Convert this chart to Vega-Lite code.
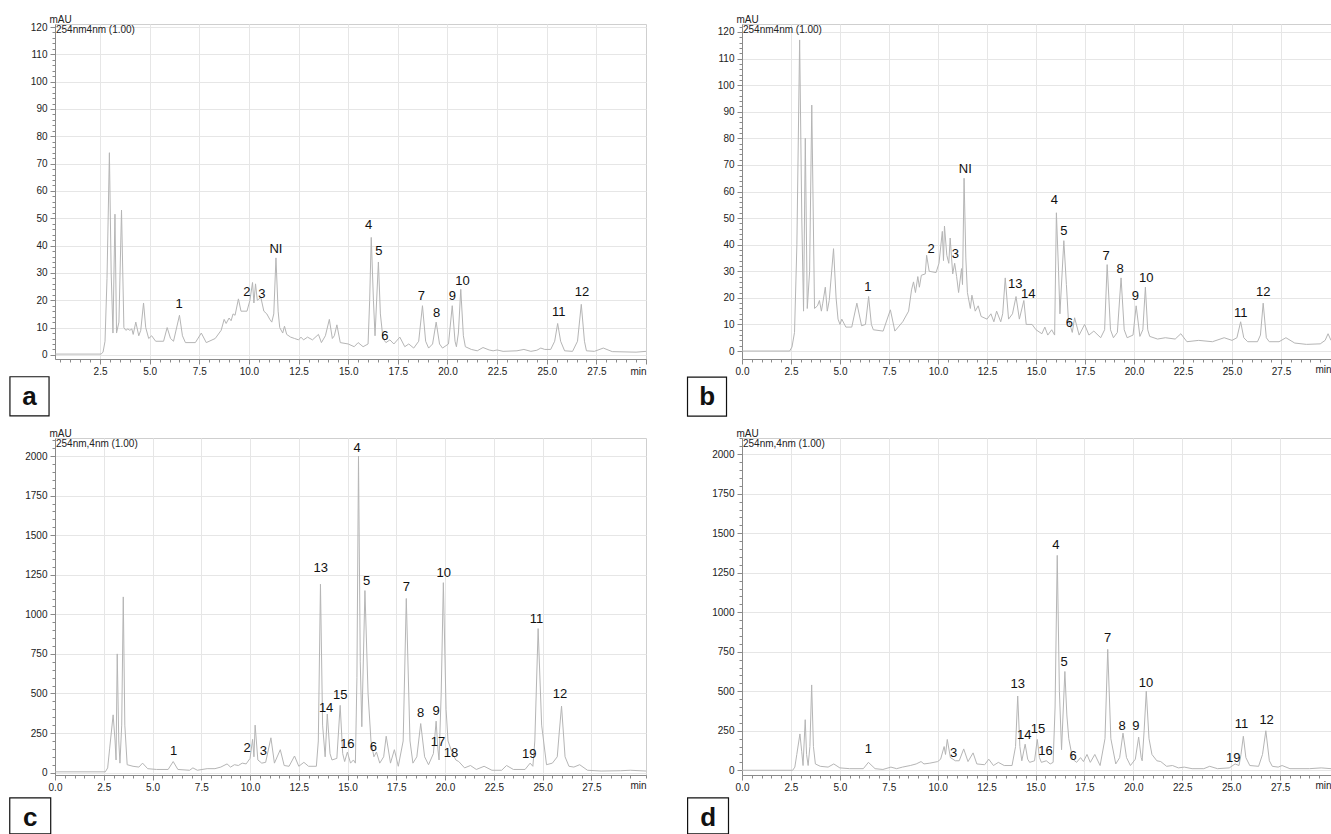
{
"$schema": "https://vega.github.io/schema/vega-lite/v6.json",
"autosize": {"type": "pad"},
"padding": {"left": 8, "top": 13, "right": 0, "bottom": 0},
"background": "white",
"config": {
  "axis": {"labelFont": "Liberation Sans", "labelFontSize": 10, "labelColor": "#222", "domainColor": "#8a8a8a", "tickColor": "#8a8a8a", "gridColor": "#e6e6e6", "titleFont": "Liberation Sans", "titleFontWeight": "normal", "titleFontSize": 10, "titleColor": "#222", "labelOverlap": false, "tickCount": 500},
  "view": {"stroke": "#cfcfcf"},
  "text": {"font": "Liberation Sans"}
},
"datasets": {
  "info": [{"panel": "a", "info": "254nm4nm (1.00)"}, {"panel": "b", "info": "254nm4nm (1.00)"}, {"panel": "c", "info": "254nm,4nm (1.00)"}, {"panel": "d", "info": "254nm,4nm (1.00)"}],
  "a": [{"t":0.23,"v":0.3},{"t":2.55,"v":0.3},{"t":2.65,"v":1},{"t":2.75,"v":5},{"t":2.85,"v":28},{"t":2.97,"v":74},{"t":3.06,"v":30},{"t":3.15,"v":8},{"t":3.25,"v":51.5},{"t":3.33,"v":8},{"t":3.45,"v":12},{"t":3.58,"v":53},{"t":3.7,"v":10},{"t":3.8,"v":9},{"t":3.9,"v":9.5},{"t":4.0,"v":9},{"t":4.1,"v":9.5},{"t":4.17,"v":7.5},{"t":4.3,"v":12},{"t":4.45,"v":7},{"t":4.55,"v":9},{"t":4.69,"v":19},{"t":4.8,"v":10},{"t":4.95,"v":6},{"t":5.1,"v":7},{"t":5.3,"v":5},{"t":5.7,"v":5},{"t":5.88,"v":10},{"t":6.05,"v":6},{"t":6.2,"v":5},{"t":6.5,"v":14.5},{"t":6.65,"v":7},{"t":6.8,"v":4.5},{"t":7.3,"v":4.5},{"t":7.6,"v":8},{"t":7.85,"v":4.5},{"t":8.3,"v":6},{"t":8.6,"v":9},{"t":8.75,"v":13},{"t":8.85,"v":11.5},{"t":9.0,"v":13.5},{"t":9.1,"v":12.5},{"t":9.2,"v":15},{"t":9.3,"v":14.5},{"t":9.47,"v":20.5},{"t":9.6,"v":16},{"t":9.9,"v":16},{"t":10.05,"v":20},{"t":10.18,"v":26.5},{"t":10.25,"v":19},{"t":10.33,"v":26},{"t":10.42,"v":20},{"t":10.6,"v":21},{"t":10.75,"v":16},{"t":10.9,"v":15},{"t":11.05,"v":13},{"t":11.15,"v":12},{"t":11.25,"v":15},{"t":11.36,"v":35.5},{"t":11.47,"v":16},{"t":11.55,"v":10},{"t":11.7,"v":8},{"t":11.79,"v":10.5},{"t":11.9,"v":7.5},{"t":12.1,"v":6.5},{"t":12.3,"v":6},{"t":12.5,"v":5.5},{"t":12.62,"v":6.5},{"t":12.75,"v":5.5},{"t":12.95,"v":6.5},{"t":13.2,"v":5.5},{"t":13.5,"v":7.5},{"t":13.65,"v":4.5},{"t":13.85,"v":7},{"t":14.05,"v":13},{"t":14.2,"v":6},{"t":14.3,"v":7},{"t":14.43,"v":11},{"t":14.6,"v":4.5},{"t":15.0,"v":4},{"t":15.3,"v":3},{"t":15.5,"v":4.5},{"t":15.75,"v":3},{"t":16.0,"v":4},{"t":16.08,"v":20},{"t":16.16,"v":43},{"t":16.27,"v":20},{"t":16.35,"v":7},{"t":16.52,"v":34},{"t":16.62,"v":15},{"t":16.75,"v":6},{"t":16.9,"v":4.5},{"t":17.1,"v":5.5},{"t":17.3,"v":4},{"t":17.6,"v":6.5},{"t":17.85,"v":3},{"t":18.05,"v":4},{"t":18.3,"v":2.5},{"t":18.55,"v":5},{"t":18.74,"v":18},{"t":18.9,"v":5},{"t":19.05,"v":2.5},{"t":19.25,"v":4},{"t":19.43,"v":12},{"t":19.6,"v":4},{"t":19.75,"v":2.5},{"t":20.05,"v":4},{"t":20.24,"v":18},{"t":20.38,"v":5},{"t":20.45,"v":3},{"t":20.55,"v":8},{"t":20.67,"v":24},{"t":20.8,"v":7},{"t":20.9,"v":3},{"t":21.2,"v":2},{"t":21.5,"v":1.5},{"t":21.79,"v":2.7},{"t":22.1,"v":1.8},{"t":22.3,"v":1.5},{"t":22.5,"v":1.8},{"t":22.8,"v":1.3},{"t":23.5,"v":1.5},{"t":23.85,"v":2},{"t":24.2,"v":1.3},{"t":24.5,"v":1.7},{"t":24.7,"v":2.5},{"t":24.9,"v":2},{"t":25.2,"v":2},{"t":25.4,"v":5},{"t":25.55,"v":11.5},{"t":25.7,"v":5},{"t":25.9,"v":1.5},{"t":26.3,"v":1.3},{"t":26.55,"v":5},{"t":26.74,"v":18.5},{"t":26.9,"v":5},{"t":27.0,"v":1.5},{"t":27.4,"v":1.3},{"t":27.85,"v":2.5},{"t":28.3,"v":1.2},{"t":29.5,"v":1},{"t":30.0,"v":1.3}],
  "aLab": [{"t":6.48,"v":18.6,"lab":"1"},{"t":9.9,"v":22.9,"lab":"2"},{"t":10.65,"v":22.3,"lab":"3"},{"t":11.36,"v":38.7,"lab":"NI"},{"t":16.03,"v":47.6,"lab":"4"},{"t":16.54,"v":37.9,"lab":"5"},{"t":16.84,"v":7.1,"lab":"6"},{"t":18.69,"v":21.7,"lab":"7"},{"t":19.45,"v":15.2,"lab":"8"},{"t":20.24,"v":21.7,"lab":"9"},{"t":20.76,"v":27.2,"lab":"10"},{"t":25.6,"v":15.6,"lab":"11"},{"t":26.78,"v":23.1,"lab":"12"}],
  "b": [{"t":0,"v":0},{"t":2.43,"v":0},{"t":2.55,"v":1.5},{"t":2.68,"v":7},{"t":2.8,"v":40},{"t":2.94,"v":117},{"t":3.05,"v":50},{"t":3.14,"v":15},{"t":3.23,"v":80},{"t":3.33,"v":16},{"t":3.45,"v":30},{"t":3.56,"v":92.5},{"t":3.7,"v":16},{"t":3.85,"v":17},{"t":3.95,"v":19},{"t":4.05,"v":15},{"t":4.12,"v":18},{"t":4.25,"v":24},{"t":4.35,"v":15},{"t":4.45,"v":19},{"t":4.67,"v":38.5},{"t":4.8,"v":20},{"t":4.9,"v":12},{"t":5.0,"v":10},{"t":5.09,"v":12},{"t":5.3,"v":9},{"t":5.6,"v":9},{"t":5.86,"v":18},{"t":6.1,"v":9.5},{"t":6.3,"v":10},{"t":6.46,"v":20.5},{"t":6.6,"v":10},{"t":6.7,"v":8},{"t":7.2,"v":7.5},{"t":7.57,"v":15.5},{"t":7.8,"v":7.5},{"t":8.2,"v":11},{"t":8.5,"v":15},{"t":8.65,"v":23},{"t":8.75,"v":26},{"t":8.85,"v":22},{"t":8.97,"v":28},{"t":9.05,"v":24},{"t":9.15,"v":28.5},{"t":9.35,"v":29},{"t":9.42,"v":36},{"t":9.55,"v":30},{"t":9.9,"v":29.5},{"t":10.05,"v":33},{"t":10.22,"v":45},{"t":10.28,"v":34},{"t":10.33,"v":47},{"t":10.45,"v":36},{"t":10.55,"v":33},{"t":10.62,"v":42.5},{"t":10.75,"v":29},{"t":10.85,"v":33},{"t":10.95,"v":28},{"t":11.05,"v":22},{"t":11.2,"v":31},{"t":11.25,"v":25},{"t":11.33,"v":65},{"t":11.42,"v":35},{"t":11.5,"v":22},{"t":11.65,"v":16},{"t":11.73,"v":21},{"t":11.9,"v":15},{"t":12.05,"v":17},{"t":12.2,"v":13},{"t":12.5,"v":12},{"t":12.7,"v":14},{"t":12.85,"v":11},{"t":12.99,"v":15},{"t":13.2,"v":11},{"t":13.3,"v":14},{"t":13.43,"v":27.5},{"t":13.6,"v":12},{"t":13.8,"v":14},{"t":13.98,"v":20.5},{"t":14.15,"v":12},{"t":14.38,"v":19},{"t":14.5,"v":10},{"t":14.8,"v":10},{"t":15.0,"v":8},{"t":15.3,"v":6.5},{"t":15.45,"v":9},{"t":15.6,"v":6},{"t":15.8,"v":8},{"t":15.95,"v":6},{"t":16.04,"v":52},{"t":16.15,"v":30},{"t":16.22,"v":14},{"t":16.42,"v":41.5},{"t":16.55,"v":25},{"t":16.65,"v":12},{"t":16.85,"v":7},{"t":16.97,"v":12.5},{"t":17.2,"v":6},{"t":17.48,"v":10},{"t":17.7,"v":6},{"t":17.95,"v":7.5},{"t":18.3,"v":5},{"t":18.5,"v":8},{"t":18.63,"v":32.5},{"t":18.8,"v":8},{"t":18.95,"v":5},{"t":19.15,"v":7},{"t":19.34,"v":27.5},{"t":19.5,"v":8},{"t":19.65,"v":5},{"t":19.95,"v":6},{"t":20.11,"v":17},{"t":20.3,"v":5.5},{"t":20.45,"v":8},{"t":20.58,"v":24},{"t":20.7,"v":8},{"t":20.8,"v":5.5},{"t":21.2,"v":4.5},{"t":21.6,"v":5},{"t":22.1,"v":4.5},{"t":22.39,"v":6.5},{"t":22.7,"v":3.5},{"t":23.3,"v":4},{"t":24.0,"v":3.5},{"t":24.6,"v":5},{"t":25.0,"v":4},{"t":25.25,"v":5},{"t":25.44,"v":11},{"t":25.6,"v":5},{"t":25.8,"v":3.5},{"t":26.3,"v":3.5},{"t":26.45,"v":6},{"t":26.59,"v":18},{"t":26.75,"v":5},{"t":26.9,"v":3.5},{"t":27.4,"v":3.5},{"t":27.75,"v":5},{"t":28.2,"v":3},{"t":28.8,"v":2.5},{"t":29.5,"v":2.7},{"t":29.75,"v":4},{"t":29.9,"v":6.5},{"t":30.05,"v":4}],
  "bLab": [{"t":6.42,"v":24.1,"lab":"1"},{"t":9.65,"v":38.2,"lab":"2"},{"t":10.88,"v":36.4,"lab":"3"},{"t":11.39,"v":68.3,"lab":"NI"},{"t":13.94,"v":25.1,"lab":"13"},{"t":14.6,"v":21.3,"lab":"14"},{"t":15.93,"v":56.8,"lab":"4"},{"t":16.42,"v":45.1,"lab":"5"},{"t":16.7,"v":10.7,"lab":"6"},{"t":18.58,"v":35.7,"lab":"7"},{"t":19.29,"v":30.7,"lab":"8"},{"t":20.07,"v":20.7,"lab":"9"},{"t":20.62,"v":27.6,"lab":"10"},{"t":25.44,"v":14.4,"lab":"11"},{"t":26.59,"v":22.2,"lab":"12"}],
  "c": [{"t":0,"v":5},{"t":2.58,"v":5},{"t":2.7,"v":30},{"t":2.8,"v":150},{"t":2.98,"v":365},{"t":3.08,"v":200},{"t":3.13,"v":80},{"t":3.19,"v":750},{"t":3.27,"v":200},{"t":3.33,"v":60},{"t":3.42,"v":300},{"t":3.5,"v":1110},{"t":3.58,"v":300},{"t":3.7,"v":50},{"t":4.0,"v":40},{"t":4.3,"v":35},{"t":4.49,"v":60},{"t":4.75,"v":25},{"t":5.2,"v":20},{"t":5.8,"v":20},{"t":6.06,"v":70},{"t":6.3,"v":20},{"t":6.9,"v":15},{"t":7.07,"v":30},{"t":7.3,"v":15},{"t":7.8,"v":25},{"t":8.2,"v":25},{"t":8.5,"v":35},{"t":8.82,"v":55},{"t":9.0,"v":35},{"t":9.2,"v":50},{"t":9.4,"v":45},{"t":9.6,"v":60},{"t":9.8,"v":55},{"t":10.0,"v":90},{"t":10.13,"v":210},{"t":10.2,"v":100},{"t":10.26,"v":300},{"t":10.4,"v":80},{"t":10.6,"v":60},{"t":10.8,"v":65},{"t":11.07,"v":220},{"t":11.25,"v":60},{"t":11.55,"v":145},{"t":11.75,"v":45},{"t":12.0,"v":40},{"t":12.28,"v":105},{"t":12.5,"v":40},{"t":12.76,"v":65},{"t":13.0,"v":40},{"t":13.4,"v":40},{"t":13.5,"v":200},{"t":13.61,"v":1190},{"t":13.72,"v":300},{"t":13.85,"v":100},{"t":13.96,"v":370},{"t":14.1,"v":120},{"t":14.2,"v":80},{"t":14.45,"v":90},{"t":14.62,"v":425},{"t":14.75,"v":120},{"t":14.85,"v":70},{"t":14.99,"v":130},{"t":15.15,"v":60},{"t":15.3,"v":80},{"t":15.4,"v":60},{"t":15.48,"v":600},{"t":15.56,"v":2000},{"t":15.65,"v":700},{"t":15.73,"v":290},{"t":15.89,"v":1150},{"t":16.05,"v":500},{"t":16.2,"v":200},{"t":16.35,"v":100},{"t":16.48,"v":130},{"t":16.65,"v":60},{"t":16.85,"v":100},{"t":16.98,"v":230},{"t":17.2,"v":60},{"t":17.4,"v":145},{"t":17.6,"v":40},{"t":17.85,"v":200},{"t":18.01,"v":1100},{"t":18.2,"v":200},{"t":18.35,"v":60},{"t":18.55,"v":100},{"t":18.75,"v":310},{"t":18.95,"v":100},{"t":19.15,"v":50},{"t":19.4,"v":120},{"t":19.54,"v":325},{"t":19.63,"v":150},{"t":19.69,"v":80},{"t":19.8,"v":500},{"t":19.91,"v":1200},{"t":20.05,"v":400},{"t":20.15,"v":200},{"t":20.35,"v":130},{"t":20.55,"v":80},{"t":20.7,"v":70},{"t":21.0,"v":30},{"t":21.3,"v":45},{"t":21.6,"v":20},{"t":22.0,"v":40},{"t":22.4,"v":15},{"t":22.9,"v":15},{"t":23.15,"v":45},{"t":23.5,"v":20},{"t":24.1,"v":20},{"t":24.36,"v":60},{"t":24.5,"v":40},{"t":24.6,"v":200},{"t":24.77,"v":910},{"t":24.95,"v":300},{"t":25.2,"v":50},{"t":25.5,"v":60},{"t":25.75,"v":100},{"t":25.85,"v":250},{"t":25.97,"v":420},{"t":26.15,"v":100},{"t":26.35,"v":40},{"t":26.6,"v":35},{"t":26.9,"v":50},{"t":27.3,"v":15},{"t":28.0,"v":10},{"t":29.0,"v":12},{"t":29.5,"v":15},{"t":30.3,"v":10}],
  "cLab": [{"t":6.08,"v":137,"lab":"1"},{"t":9.85,"v":154,"lab":"2"},{"t":10.68,"v":137,"lab":"3"},{"t":13.63,"v":1295,"lab":"13"},{"t":13.9,"v":410,"lab":"14"},{"t":14.62,"v":490,"lab":"15"},{"t":14.99,"v":183,"lab":"16"},{"t":15.49,"v":2048,"lab":"4"},{"t":15.97,"v":1210,"lab":"5"},{"t":16.32,"v":162,"lab":"6"},{"t":18.01,"v":1175,"lab":"7"},{"t":18.75,"v":379,"lab":"8"},{"t":19.54,"v":389,"lab":"9"},{"t":19.93,"v":1259,"lab":"10"},{"t":19.64,"v":195,"lab":"17"},{"t":20.3,"v":125,"lab":"18"},{"t":24.68,"v":968,"lab":"11"},{"t":25.89,"v":495,"lab":"12"},{"t":24.31,"v":120,"lab":"19"}],
  "d": [{"t":0,"v":0},{"t":2.59,"v":0},{"t":2.7,"v":20},{"t":2.8,"v":100},{"t":2.96,"v":230},{"t":3.05,"v":120},{"t":3.12,"v":30},{"t":3.23,"v":320},{"t":3.3,"v":100},{"t":3.38,"v":30},{"t":3.47,"v":150},{"t":3.56,"v":540},{"t":3.65,"v":150},{"t":3.75,"v":40},{"t":4.0,"v":25},{"t":4.4,"v":20},{"t":4.69,"v":40},{"t":5.0,"v":15},{"t":5.5,"v":10},{"t":6.2,"v":10},{"t":6.46,"v":50},{"t":6.8,"v":10},{"t":7.2,"v":5},{"t":7.61,"v":20},{"t":7.9,"v":10},{"t":8.2,"v":20},{"t":8.6,"v":30},{"t":8.9,"v":40},{"t":9.15,"v":55},{"t":9.3,"v":40},{"t":9.6,"v":45},{"t":10.0,"v":55},{"t":10.15,"v":70},{"t":10.33,"v":150},{"t":10.4,"v":100},{"t":10.49,"v":195},{"t":10.65,"v":80},{"t":10.9,"v":60},{"t":11.1,"v":60},{"t":11.33,"v":135},{"t":11.55,"v":55},{"t":11.81,"v":110},{"t":12.0,"v":40},{"t":12.4,"v":35},{"t":12.61,"v":70},{"t":12.85,"v":30},{"t":13.1,"v":50},{"t":13.4,"v":30},{"t":13.8,"v":30},{"t":13.98,"v":150},{"t":14.09,"v":470},{"t":14.2,"v":150},{"t":14.3,"v":60},{"t":14.47,"v":165},{"t":14.6,"v":70},{"t":14.7,"v":50},{"t":14.95,"v":60},{"t":15.09,"v":195},{"t":15.2,"v":80},{"t":15.3,"v":50},{"t":15.55,"v":60},{"t":15.75,"v":40},{"t":15.9,"v":50},{"t":16.0,"v":400},{"t":16.11,"v":1360},{"t":16.22,"v":500},{"t":16.33,"v":130},{"t":16.5,"v":625},{"t":16.6,"v":350},{"t":16.7,"v":200},{"t":16.9,"v":70},{"t":17.1,"v":50},{"t":17.3,"v":80},{"t":17.45,"v":55},{"t":17.63,"v":100},{"t":17.8,"v":50},{"t":18.03,"v":100},{"t":18.3,"v":30},{"t":18.55,"v":200},{"t":18.69,"v":765},{"t":18.85,"v":200},{"t":19.1,"v":40},{"t":19.3,"v":80},{"t":19.47,"v":235},{"t":19.65,"v":80},{"t":19.85,"v":30},{"t":20.1,"v":70},{"t":20.27,"v":210},{"t":20.4,"v":80},{"t":20.45,"v":60},{"t":20.55,"v":250},{"t":20.66,"v":500},{"t":20.8,"v":200},{"t":20.95,"v":100},{"t":21.2,"v":60},{"t":21.4,"v":55},{"t":21.7,"v":25},{"t":22.0,"v":30},{"t":22.3,"v":15},{"t":22.6,"v":20},{"t":23.0,"v":10},{"t":23.6,"v":10},{"t":23.9,"v":25},{"t":24.3,"v":10},{"t":24.9,"v":15},{"t":25.2,"v":40},{"t":25.4,"v":30},{"t":25.5,"v":100},{"t":25.62,"v":215},{"t":25.75,"v":80},{"t":25.95,"v":30},{"t":26.4,"v":25},{"t":26.6,"v":100},{"t":26.77,"v":250},{"t":26.95,"v":60},{"t":27.1,"v":25},{"t":27.4,"v":20},{"t":27.6,"v":30},{"t":28.0,"v":10},{"t":29.0,"v":10},{"t":29.6,"v":15},{"t":30.1,"v":10}],
  "dLab": [{"t":6.46,"v":133,"lab":"1"},{"t":10.82,"v":107,"lab":"3"},{"t":14.09,"v":548,"lab":"13"},{"t":14.42,"v":221,"lab":"14"},{"t":15.13,"v":259,"lab":"15"},{"t":15.51,"v":122,"lab":"16"},{"t":16.04,"v":1423,"lab":"4"},{"t":16.46,"v":687,"lab":"5"},{"t":16.92,"v":91,"lab":"6"},{"t":18.69,"v":835,"lab":"7"},{"t":19.42,"v":280,"lab":"8"},{"t":20.13,"v":280,"lab":"9"},{"t":20.64,"v":554,"lab":"10"},{"t":25.53,"v":291,"lab":"11"},{"t":26.81,"v":318,"lab":"12"},{"t":25.11,"v":76,"lab":"19"}]
},
"columns": 2,
"spacing": {"row": 79, "column": 96},
"bounds": "flush",
"concat": [
{
  "width": 591, "height": 335,
  "layer": [
    {"data": {"name": "a"}, "mark": {"type": "line", "color": "#b5b5b5", "strokeWidth": 1},
     "encoding": {
       "x": {"field": "t", "type": "quantitative", "scale": {"domain": [0.23, 30.0], "nice": false, "zero": false},
             "axis": {"title": null, "values": [0.5,1,1.5,2,2.5,3,3.5,4,4.5,5,5.5,6,6.5,7,7.5,8,8.5,9,9.5,10,10.5,11,11.5,12,12.5,13,13.5,14,14.5,15,15.5,16,16.5,17,17.5,18,18.5,19,19.5,20,20.5,21,21.5,22,22.5,23,23.5,24,24.5,25,25.5,26,26.5,27,27.5,28,28.5,29,29.5,30],
                      "labelExpr": "datum.value > 29.9 ? 'min' : (abs(datum.value/2.5 - round(datum.value/2.5)) < 0.001 ? format(datum.value, '.1f') : '')",
                      "labelAlign": {"condition": {"test": "datum.value > 29.9", "value": "right"}, "value": "center"},
                      "tickSize": {"condition": {"test": "abs(datum.value/2.5 - round(datum.value/2.5)) < 0.001", "value": 5}, "value": 3},
                      "gridOpacity": {"condition": {"test": "abs(datum.value/2.5 - round(datum.value/2.5)) < 0.001 && datum.value < 29.9", "value": 1}, "value": 0},
                      "labelPadding": 2}},
       "y": {"field": "v", "type": "quantitative", "scale": {"domain": [-1.5, 121.1], "nice": false, "zero": false},
             "axis": {"title": "mAU", "titleAngle": 0, "titleAlign": "left", "titleBaseline": "alphabetic", "titleX": -6, "titleY": -2,
                      "values": [0,2,4,6,8,10,12,14,16,18,20,22,24,26,28,30,32,34,36,38,40,42,44,46,48,50,52,54,56,58,60,62,64,66,68,70,72,74,76,78,80,82,84,86,88,90,92,94,96,98,100,102,104,106,108,110,112,114,116,118,120],
                      "labelExpr": "datum.value % 10 === 0 ? format(datum.value, 'd') : ''",
                      "tickSize": {"condition": {"test": "datum.value % 10 === 0", "value": 5}, "value": 3},
                      "gridOpacity": {"condition": {"test": "datum.value % 10 === 0", "value": 1}, "value": 0},
                      "labelPadding": 3}}
     }},
    {"data": {"name": "aLab"}, "mark": {"type": "text", "fontSize": 13, "color": "#111", "baseline": "middle"},
     "encoding": {"x": {"field": "t", "type": "quantitative"}, "y": {"field": "v", "type": "quantitative"}, "text": {"field": "lab"}}},
    {"data": {"name": "info"}, "transform": [{"filter": "datum.panel == 'a'"}],
     "mark": {"type": "text", "align": "left", "baseline": "top", "dx": 1, "dy": 1, "fontSize": 10, "color": "#222"},
     "encoding": {"x": {"datum": 0.23}, "y": {"datum": 121.1}, "text": {"field": "info"}}},
    {"data": {"name": "info"}, "transform": [{"filter": "datum.panel == 'a'"}],
     "mark": {"type": "rect", "fill": "white", "stroke": "#111", "strokeWidth": 1.2},
     "encoding": {"x": {"datum": -2.04}, "x2": {"datum": -0.07}, "y": {"datum": -8.0}, "y2": {"datum": -22.3}}},
    {"data": {"name": "info"}, "transform": [{"filter": "datum.panel == 'a'"}],
     "mark": {"type": "text", "fontSize": 26, "fontWeight": "bold", "baseline": "alphabetic", "color": "#111"},
     "encoding": {"x": {"datum": -1.05}, "y": {"datum": -18.3}, "text": {"field": "panel"}}}
  ]
},
{
  "width": 589, "height": 335,
  "layer": [
    {"data": {"name": "b"}, "mark": {"type": "line", "color": "#b5b5b5", "strokeWidth": 1},
     "encoding": {
       "x": {"field": "t", "type": "quantitative", "scale": {"domain": [0, 30.05], "nice": false, "zero": false},
             "axis": {"title": null, "values": [0,0.5,1,1.5,2,2.5,3,3.5,4,4.5,5,5.5,6,6.5,7,7.5,8,8.5,9,9.5,10,10.5,11,11.5,12,12.5,13,13.5,14,14.5,15,15.5,16,16.5,17,17.5,18,18.5,19,19.5,20,20.5,21,21.5,22,22.5,23,23.5,24,24.5,25,25.5,26,26.5,27,27.5,28,28.5,29,29.5,30.05],
                      "labelExpr": "datum.value > 29.9 ? 'min' : (abs(datum.value/2.5 - round(datum.value/2.5)) < 0.001 ? format(datum.value, '.1f') : '')",
                      "labelAlign": {"condition": {"test": "datum.value > 29.9", "value": "right"}, "value": "center"},
                      "tickSize": {"condition": {"test": "abs(datum.value/2.5 - round(datum.value/2.5)) < 0.001", "value": 5}, "value": 3},
                      "gridOpacity": {"condition": {"test": "abs(datum.value/2.5 - round(datum.value/2.5)) < 0.001 && datum.value < 29.9", "value": 1}, "value": 0},
                      "labelPadding": 2}},
       "y": {"field": "v", "type": "quantitative", "scale": {"domain": [-3.0, 123.0], "nice": false, "zero": false},
             "axis": {"title": "mAU", "titleAngle": 0, "titleAlign": "left", "titleBaseline": "alphabetic", "titleX": -6, "titleY": -2,
                      "values": [0,2,4,6,8,10,12,14,16,18,20,22,24,26,28,30,32,34,36,38,40,42,44,46,48,50,52,54,56,58,60,62,64,66,68,70,72,74,76,78,80,82,84,86,88,90,92,94,96,98,100,102,104,106,108,110,112,114,116,118,120,122],
                      "labelExpr": "datum.value % 10 === 0 ? format(datum.value, 'd') : ''",
                      "tickSize": {"condition": {"test": "datum.value % 10 === 0", "value": 5}, "value": 3},
                      "gridOpacity": {"condition": {"test": "datum.value % 10 === 0", "value": 1}, "value": 0},
                      "labelPadding": 3}}
     }},
    {"data": {"name": "bLab"}, "mark": {"type": "text", "fontSize": 13, "color": "#111", "baseline": "middle"},
     "encoding": {"x": {"field": "t", "type": "quantitative"}, "y": {"field": "v", "type": "quantitative"}, "text": {"field": "lab"}}},
    {"data": {"name": "info"}, "transform": [{"filter": "datum.panel == 'b'"}],
     "mark": {"type": "text", "align": "left", "baseline": "top", "dx": 1, "dy": 1, "fontSize": 10, "color": "#222"},
     "encoding": {"x": {"datum": 0}, "y": {"datum": 123.0}, "text": {"field": "info"}}},
    {"data": {"name": "info"}, "transform": [{"filter": "datum.panel == 'b'"}],
     "mark": {"type": "rect", "fill": "white", "stroke": "#111", "strokeWidth": 1.2},
     "encoding": {"x": {"datum": -2.78}, "x2": {"datum": -0.79}, "y": {"datum": -9.8}, "y2": {"datum": -24.5}}},
    {"data": {"name": "info"}, "transform": [{"filter": "datum.panel == 'b'"}],
     "mark": {"type": "text", "fontSize": 26, "fontWeight": "bold", "baseline": "alphabetic", "color": "#111"},
     "encoding": {"x": {"datum": -1.78}, "y": {"datum": -20.3}, "text": {"field": "panel"}}}
  ]
},
{
  "width": 591, "height": 337,
  "layer": [
    {"data": {"name": "c"}, "mark": {"type": "line", "color": "#b5b5b5", "strokeWidth": 1},
     "encoding": {
       "x": {"field": "t", "type": "quantitative", "scale": {"domain": [0, 30.3], "nice": false, "zero": false},
             "axis": {"title": null, "values": [0,0.5,1,1.5,2,2.5,3,3.5,4,4.5,5,5.5,6,6.5,7,7.5,8,8.5,9,9.5,10,10.5,11,11.5,12,12.5,13,13.5,14,14.5,15,15.5,16,16.5,17,17.5,18,18.5,19,19.5,20,20.5,21,21.5,22,22.5,23,23.5,24,24.5,25,25.5,26,26.5,27,27.5,28,28.5,29,29.5,30.3],
                      "labelExpr": "datum.value > 29.9 ? 'min' : (abs(datum.value/2.5 - round(datum.value/2.5)) < 0.001 ? format(datum.value, '.1f') : '')",
                      "labelAlign": {"condition": {"test": "datum.value > 29.9", "value": "right"}, "value": "center"},
                      "tickSize": {"condition": {"test": "abs(datum.value/2.5 - round(datum.value/2.5)) < 0.001", "value": 5}, "value": 3},
                      "gridOpacity": {"condition": {"test": "abs(datum.value/2.5 - round(datum.value/2.5)) < 0.001 && datum.value < 29.9", "value": 1}, "value": 0},
                      "labelPadding": 2}},
       "y": {"field": "v", "type": "quantitative", "scale": {"domain": [-15, 2114], "nice": false, "zero": false},
             "axis": {"title": "mAU", "titleAngle": 0, "titleAlign": "left", "titleBaseline": "alphabetic", "titleX": -6, "titleY": -2,
                      "values": [0,50,100,150,200,250,300,350,400,450,500,550,600,650,700,750,800,850,900,950,1000,1050,1100,1150,1200,1250,1300,1350,1400,1450,1500,1550,1600,1650,1700,1750,1800,1850,1900,1950,2000,2050,2100],
                      "labelExpr": "datum.value % 250 === 0 ? format(datum.value, 'd') : ''",
                      "tickSize": {"condition": {"test": "datum.value % 250 === 0", "value": 5}, "value": 3},
                      "gridOpacity": {"condition": {"test": "datum.value % 250 === 0", "value": 1}, "value": 0},
                      "labelPadding": 3}}
     }},
    {"data": {"name": "cLab"}, "mark": {"type": "text", "fontSize": 13, "color": "#111", "baseline": "middle"},
     "encoding": {"x": {"field": "t", "type": "quantitative"}, "y": {"field": "v", "type": "quantitative"}, "text": {"field": "lab"}}},
    {"data": {"name": "info"}, "transform": [{"filter": "datum.panel == 'c'"}],
     "mark": {"type": "text", "align": "left", "baseline": "top", "dx": 1, "dy": 1, "fontSize": 10, "color": "#222"},
     "encoding": {"x": {"datum": 0}, "y": {"datum": 2114}, "text": {"field": "info"}}},
    {"data": {"name": "info"}, "transform": [{"filter": "datum.panel == 'c'"}],
     "mark": {"type": "rect", "fill": "white", "stroke": "#111", "strokeWidth": 1.2},
     "encoding": {"x": {"datum": -2.32}, "x2": {"datum": -0.22}, "y": {"datum": -160}, "y2": {"datum": -387}}},
    {"data": {"name": "info"}, "transform": [{"filter": "datum.panel == 'c'"}],
     "mark": {"type": "text", "fontSize": 26, "fontWeight": "bold", "baseline": "alphabetic", "color": "#111"},
     "encoding": {"x": {"datum": -1.27}, "y": {"datum": -337}, "text": {"field": "panel"}}}
  ]
},
{
  "width": 589, "height": 337,
  "layer": [
    {"data": {"name": "d"}, "mark": {"type": "line", "color": "#b5b5b5", "strokeWidth": 1},
     "encoding": {
       "x": {"field": "t", "type": "quantitative", "scale": {"domain": [0, 30.1], "nice": false, "zero": false},
             "axis": {"title": null, "values": [0,0.5,1,1.5,2,2.5,3,3.5,4,4.5,5,5.5,6,6.5,7,7.5,8,8.5,9,9.5,10,10.5,11,11.5,12,12.5,13,13.5,14,14.5,15,15.5,16,16.5,17,17.5,18,18.5,19,19.5,20,20.5,21,21.5,22,22.5,23,23.5,24,24.5,25,25.5,26,26.5,27,27.5,28,28.5,29,29.5,30.1],
                      "labelExpr": "datum.value > 29.9 ? 'min' : (abs(datum.value/2.5 - round(datum.value/2.5)) < 0.001 ? format(datum.value, '.1f') : '')",
                      "labelAlign": {"condition": {"test": "datum.value > 29.9", "value": "right"}, "value": "center"},
                      "tickSize": {"condition": {"test": "abs(datum.value/2.5 - round(datum.value/2.5)) < 0.001", "value": 5}, "value": 3},
                      "gridOpacity": {"condition": {"test": "abs(datum.value/2.5 - round(datum.value/2.5)) < 0.001 && datum.value < 29.9", "value": 1}, "value": 0},
                      "labelPadding": 2}},
       "y": {"field": "v", "type": "quantitative", "scale": {"domain": [-30, 2103], "nice": false, "zero": false},
             "axis": {"title": "mAU", "titleAngle": 0, "titleAlign": "left", "titleBaseline": "alphabetic", "titleX": -6, "titleY": -2,
                      "values": [0,50,100,150,200,250,300,350,400,450,500,550,600,650,700,750,800,850,900,950,1000,1050,1100,1150,1200,1250,1300,1350,1400,1450,1500,1550,1600,1650,1700,1750,1800,1850,1900,1950,2000,2050,2100],
                      "labelExpr": "datum.value % 250 === 0 ? format(datum.value, 'd') : ''",
                      "tickSize": {"condition": {"test": "datum.value % 250 === 0", "value": 5}, "value": 3},
                      "gridOpacity": {"condition": {"test": "datum.value % 250 === 0", "value": 1}, "value": 0},
                      "labelPadding": 3}}
     }},
    {"data": {"name": "dLab"}, "mark": {"type": "text", "fontSize": 13, "color": "#111", "baseline": "middle"},
     "encoding": {"x": {"field": "t", "type": "quantitative"}, "y": {"field": "v", "type": "quantitative"}, "text": {"field": "lab"}}},
    {"data": {"name": "info"}, "transform": [{"filter": "datum.panel == 'd'"}],
     "mark": {"type": "text", "align": "left", "baseline": "top", "dx": 1, "dy": 1, "fontSize": 10, "color": "#222"},
     "encoding": {"x": {"datum": 0}, "y": {"datum": 2103}, "text": {"field": "info"}}},
    {"data": {"name": "info"}, "transform": [{"filter": "datum.panel == 'd'"}],
     "mark": {"type": "rect", "fill": "white", "stroke": "#111", "strokeWidth": 1.2},
     "encoding": {"x": {"datum": -2.78}, "x2": {"datum": -0.69}, "y": {"datum": -175}, "y2": {"datum": -403}}},
    {"data": {"name": "info"}, "transform": [{"filter": "datum.panel == 'd'"}],
     "mark": {"type": "text", "fontSize": 26, "fontWeight": "bold", "baseline": "alphabetic", "color": "#111"},
     "encoding": {"x": {"datum": -1.73}, "y": {"datum": -352}, "text": {"field": "panel"}}}
  ]
}
]
}
